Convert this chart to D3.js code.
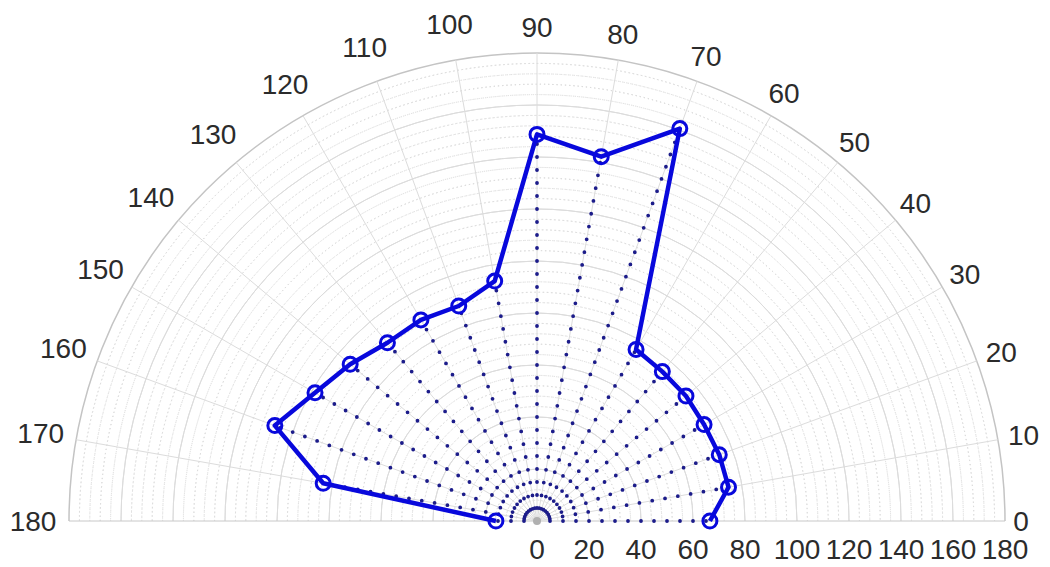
<!DOCTYPE html>
<html>
<head>
<meta charset="utf-8">
<script src="https://cdn.jsdelivr.net/npm/d3@7"></script>
<style>
  body { margin: 0; background: #fff; }
  text { font-family: "Liberation Sans", Arial, sans-serif; fill: #2b2b2b; }
</style>
</head>
<body>
<div id="chart"></div>
<script>
// measured angles (deg) and radii
var angles = [0, 10, 20, 30, 40, 50, 60, 70, 80, 90, 100, 110, 120, 130, 140, 150, 160, 170, 180];
var radii = [66.5, 74.8, 74.6, 74.2, 74.8, 75, 76.2, 160.6, 142.3, 148.7, 93.7, 88, 89.3, 89.5, 93.8, 98.6, 107.3, 83.5, 15.8];

var thetaTicks = d3.range(0, 181, 10);
var rTicks = [0, 20, 40, 60, 80, 100, 120, 140, 160, 180];
var rMinor = d3.range(4, 180, 4);

function base(){
    var w = 1050;
    var h = 567;
    var cx = 537, cy = 521;

    var rScale = d3.scaleLinear().domain([0, 180]).range([0, 468]);
    var rad = function(deg){ return (90 - deg) * Math.PI / 180; }; // d3 radial angle
    var px = function(a, r){ return r * Math.cos(a * Math.PI / 180); };
    var py = function(a, r){ return -r * Math.sin(a * Math.PI / 180); };

    var svg = d3.select("#chart")
        .append("svg")
        .attr("width", w)
        .attr("height", h);

    var g = svg.append("g").attr("transform", "translate(" + cx + "," + cy + ")");

    var halfArc = d3.arc()
        .startAngle(-Math.PI / 2)
        .endAngle(Math.PI / 2)
        .innerRadius(function(d){ return rScale(d); })
        .outerRadius(function(d){ return rScale(d); });

    // minor rings (dotted)
    g.selectAll(".minor")
        .data(rMinor.filter(function(d){ return d % 20 != 0; }))
        .enter()
        .append("path")
        .attr("d", halfArc)
        .attr("fill", "none")
        .attr("stroke", "#dadada")
        .attr("stroke-width", 1)
        .attr("stroke-dasharray", "1.2 3");

    // major rings
    g.selectAll(".major")
        .data(rTicks.slice(1))
        .enter()
        .append("path")
        .attr("d", halfArc)
        .attr("fill", "none")
        .attr("stroke", function(d){ return d == 180 ? "#c4c4c4" : "#dcdcdc"; })
        .attr("stroke-width", function(d){ return d == 180 ? 1.5 : 1; });

    // spokes
    g.selectAll(".spoke")
        .data(thetaTicks)
        .enter()
        .append("line")
        .attr("x1", 0).attr("y1", 0)
        .attr("x2", function(d){ return px(d, rScale(180)); })
        .attr("y2", function(d){ return py(d, rScale(180)); })
        .attr("stroke", function(d){ return (d == 0 || d == 180) ? "#c8c8c8" : "#dcdcdc"; })
        .attr("stroke-width", 1);

    // angle labels
    g.selectAll(".tlab")
        .data(thetaTicks)
        .enter()
        .append("text")
        .attr("x", function(d){ return px(d, 474 + 10 * String(d).length); })
        .attr("y", function(d){ return py(d, 474 + 10 * String(d).length); })
        .attr("text-anchor", "middle")
        .attr("dominant-baseline", "central")
        .style("font-size", "28px")
        .text(function(d){ return d; });

    // radius labels
    g.selectAll(".rlab")
        .data(rTicks)
        .enter()
        .append("text")
        .attr("x", function(d){ return rScale(d); })
        .attr("y", 28)
        .attr("text-anchor", "middle")
        .attr("dominant-baseline", "central")
        .style("font-size", "28px")
        .text(function(d){ return d; });

    var data = angles.map(function(a, i){ return { a: a, r: radii[i] }; });

    // dotted stems from origin
    g.selectAll(".stem")
        .data(data)
        .enter()
        .append("line")
        .attr("x1", 0).attr("y1", 0)
        .attr("x2", function(d){ return px(d.a, rScale(d.r)); })
        .attr("y2", function(d){ return py(d.a, rScale(d.r)); })
        .attr("stroke", "#1c1c8a")
        .attr("stroke-width", 3.8)
        .attr("stroke-linecap", "round")
        .attr("stroke-dasharray", "0 13");

    g.append("circle")
        .attr("r", 4)
        .attr("fill", "#b0b0b0");

    // main polyline
    var line = d3.lineRadial()
        .angle(function(d){ return rad(d.a); })
        .radius(function(d){ return rScale(d.r); });

    g.append("path")
        .datum(data)
        .attr("d", line)
        .attr("fill", "none")
        .attr("stroke", "#0808dc")
        .attr("stroke-width", 4.5)
        .attr("stroke-linejoin", "round");

    g.selectAll(".mk")
        .data(data)
        .enter()
        .append("circle")
        .attr("cx", function(d){ return px(d.a, rScale(d.r)); })
        .attr("cy", function(d){ return py(d.a, rScale(d.r)); })
        .attr("r", 7)
        .attr("fill", "none")
        .attr("stroke", "#0808dc")
        .attr("stroke-width", 3);
}

window.onload = base;
</script>
</body>
</html>
